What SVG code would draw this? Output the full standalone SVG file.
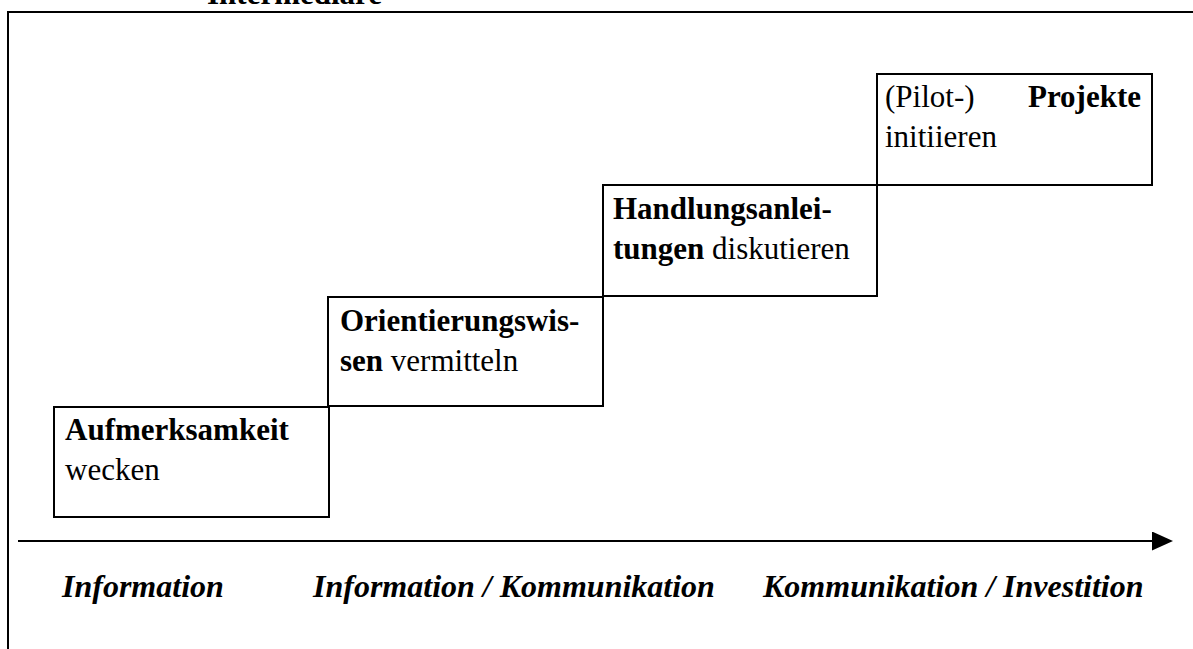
<svg xmlns="http://www.w3.org/2000/svg" width="1193" height="649" viewBox="0 0 1193 649">
<defs>
<style>
.box{fill:#fff;stroke:#000;stroke-width:2}
.t{font-family:"Liberation Serif","Times New Roman",serif;font-size:31px;fill:#000}
.b{font-weight:bold}
.lbl{font-family:"Liberation Serif","Times New Roman",serif;font-size:32px;font-weight:bold;font-style:italic;fill:#000}
.frame{fill:none;stroke:#000;stroke-width:2}
</style>
<marker id="ah" markerWidth="21" markerHeight="19" refX="0" refY="9.5" orient="auto" markerUnits="userSpaceOnUse">
<path d="M0,0 L21,9.5 L0,19 Z" fill="#000"/>
</marker>
</defs>
<rect width="1193" height="649" fill="#fff"/>
<g id="frame">
<rect class="frame" x="8" y="12" width="1200" height="700"/>
<text class="t b" x="207" y="4">Intermediäre</text>
</g>
<g id="connectors">
<line x1="18" y1="541" x2="1152" y2="541" stroke="#000" stroke-width="2" marker-end="url(#ah)"/>
</g>
<g id="node-aufmerksamkeit">
<rect class="box" x="54" y="407" width="275" height="110"/>
<text class="t" x="65" y="440"><tspan class="b">Aufmerksamkeit</tspan></text>
<text class="t" x="65" y="480">wecken</text>
</g>
<g id="node-orientierung">
<rect class="box" x="328" y="297" width="275" height="109"/>
<text class="t" x="340" y="331"><tspan class="b">Orientierungswis-</tspan></text>
<text class="t" x="340" y="371"><tspan class="b">sen</tspan> vermitteln</text>
</g>
<g id="node-handlung">
<rect class="box" x="603" y="185" width="274" height="111"/>
<text class="t" x="613" y="219"><tspan class="b">Handlungsanlei-</tspan></text>
<text class="t" x="613" y="259"><tspan class="b">tungen</tspan> diskutieren</text>
</g>
<g id="node-projekte">
<rect class="box" x="877" y="74" width="275" height="111"/>
<text class="t" x="885" y="107">(Pilot-)</text>
<text class="t b" x="1141" y="107" text-anchor="end">Projekte</text>
<text class="t" x="885" y="147">initiieren</text>
</g>
<g id="labels">
<text class="lbl" x="62" y="597">Information</text>
<text class="lbl" x="313" y="597">Information / Kommunikation</text>
<text class="lbl" x="763" y="597">Kommunikation / Investition</text>
</g>
</svg>
